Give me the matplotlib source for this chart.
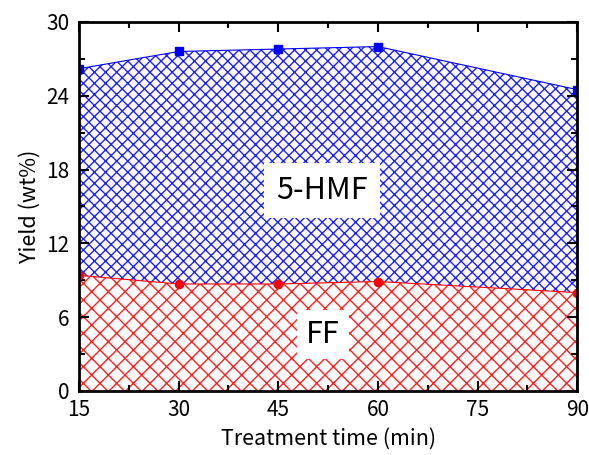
import matplotlib
matplotlib.use("Agg")
import matplotlib.pyplot as plt
from matplotlib.ticker import MultipleLocator

plt.rcParams["font.family"] = ["Noto Sans CJK JP", "DejaVu Sans"]
plt.rcParams["hatch.linewidth"] = 1.0

# data
time = [15, 30, 45, 60, 90]
hmf = [26.2, 27.6, 27.8, 28.0, 24.5]
ff = [9.4, 8.7, 8.7, 8.9, 8.0]

fig = plt.figure(figsize=(5.89, 4.55), dpi=100)
ax = fig.add_axes([0.134, 0.1407, 0.846, 0.811])

ax.fill_between(time, 0, ff, facecolor="white", edgecolor="#ff2020",
                hatch="xx", linewidth=0, zorder=1)
ax.fill_between(time, ff, hmf, facecolor="white", edgecolor="#2020ff",
                hatch="xxx", linewidth=0, zorder=1)
ax.plot(time, ff, color="red", marker="o", markersize=6, linewidth=0.8, zorder=3)
ax.plot(time, hmf, color="blue", marker="s", markersize=6, linewidth=0.8, zorder=3)

ax.text(51.6, 16.3, "5-HMF", fontsize=22, ha="center", va="center", zorder=4,
        bbox=dict(boxstyle="square,pad=0.4", fc="white", ec="none"))
ax.text(51.7, 4.6, "FF", fontsize=22, ha="center", va="center", zorder=4,
        bbox=dict(boxstyle="square,pad=0.3", fc="white", ec="none"))

ax.set_xlim(15, 90)
ax.set_ylim(0, 30)
ax.xaxis.set_major_locator(MultipleLocator(15))
ax.xaxis.set_minor_locator(MultipleLocator(7.5))
ax.yaxis.set_major_locator(MultipleLocator(6))
ax.yaxis.set_minor_locator(MultipleLocator(3))
ax.tick_params(which="both", direction="in", top=True, right=True,
               width=1.5, labelsize=15)
ax.tick_params(which="major", length=7)
ax.tick_params(which="minor", length=4)
ax.tick_params(axis="x", pad=6)
ax.tick_params(axis="y", pad=7)
for s in ax.spines.values():
    s.set_linewidth(2)
    s.set_zorder(5)

ax.set_xlabel("Treatment time (min)", fontsize=15.5, labelpad=5)
ax.set_ylabel("Yield (wt%)", fontsize=15.5, labelpad=4)

fig.savefig("out.png", dpi=100)
